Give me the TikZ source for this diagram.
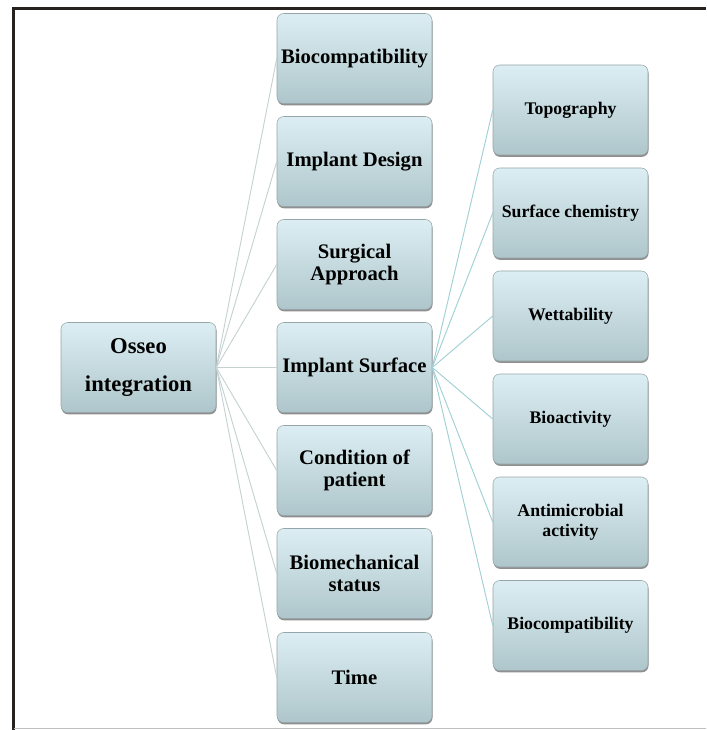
\documentclass[tikz,border=0pt]{standalone}
\usepackage{fontspec}
\setmainfont{Liberation Serif}
\usetikzlibrary{shadows}

\definecolor{boxtop}{RGB}{220,238,243}
\definecolor{boxbot}{RGB}{174,198,203}
\definecolor{boxline}{RGB}{150,165,168}
\definecolor{fanleft}{RGB}{196,210,210}
\definecolor{fanright}{RGB}{160,208,212}
\definecolor{framedark}{RGB}{40,34,30}

\tikzset{
  box/.style={rectangle, rounded corners=5pt, draw=boxline, line width=0.4pt,
    top color=boxtop, bottom color=boxbot, align=center, font=\bfseries,
    minimum width=116.25pt, minimum height=67.5pt, inner sep=1pt,
    drop shadow={shadow xshift=0.4pt, shadow yshift=-1.4pt, fill=black!55, opacity=0.8}},
  mainbox/.style={box, font=\bfseries\fontsize{17}{28}\selectfont},
  midbox/.style={box, font=\bfseries\fontsize{15.5}{17}\selectfont},
  subbox/.style={box, font=\bfseries\fontsize{13.3}{15}\selectfont},
  leftlink/.style={draw=fanleft, line width=0.7pt},
  rightlink/.style={draw=fanright, line width=0.7pt}
}

\begin{document}
\begin{tikzpicture}[x=0.75pt,y=0.75pt,yscale=-1,xscale=1]
        \useasboundingbox (0,0) rectangle (706,730);

        %Frame
        \draw [framedark, line width=2.5pt] (706,8.5) -- (13.5,8.5) -- (13.5,730);
        \draw [black!25, line width=0.8pt] (13.5,728.5) -- (706,728.5);

        % Root
        \node [mainbox] (osseo) at (138.5,367.5) {Osseo\\integration};

        % Middle column
        \node [midbox] (biocomp) at (354.5,58.5) {Biocompatibility};
        \node [midbox] (design) at (354.5,161.5) {Implant Design};
        \node [midbox] (surgical) at (354.5,264.5) {Surgical\\Approach};
        \node [midbox] (surface) at (354.5,367.5) {Implant Surface};
        \node [midbox] (condition) at (354.5,470.5) {Condition of\\patient};
        \node [midbox] (biomech) at (354.5,573.5) {Biomechanical\\status};
        \node [midbox] (time) at (354.5,677.5) {Time};

        % Right column
        \node [subbox] (topo) at (570.5,110) {Topography};
        \node [subbox] (chem) at (570.5,213) {Surface chemistry};
        \node [subbox] (wett) at (570.5,316) {Wettability};
        \node [subbox] (bioact) at (570.5,419) {Bioactivity};
        \node [subbox] (antimic) at (570.5,522) {Antimicrobial\\activity};
        \node [subbox] (biocomp2) at (570.5,625.5) {Biocompatibility};

        % Connectors
        \foreach \n in {biocomp,design,surgical,surface,condition,biomech,time}
          \draw [leftlink] (osseo.east) -- (\n.west);
        \foreach \n in {topo,chem,wett,bioact,antimic,biocomp2}
          \draw [rightlink] (surface.east) -- (\n.west);
\end{tikzpicture}
\end{document}
